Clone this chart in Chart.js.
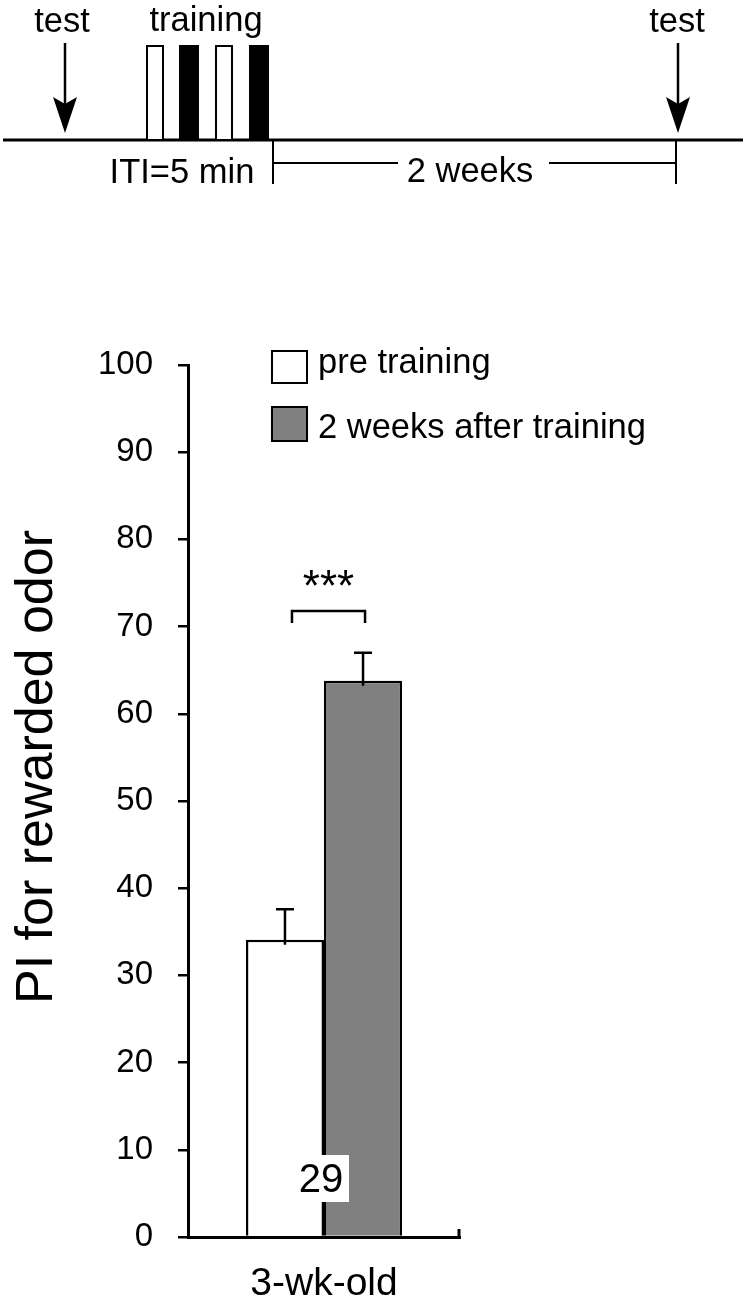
<!DOCTYPE html>
<html>
<head>
<meta charset="utf-8">
<script src="https://cdn.jsdelivr.net/npm/chart.js@4.4.1/dist/chart.umd.min.js"></script>
<style>
  html, body { margin: 0; padding: 0; background: #ffffff; }
  #wrap { position: relative; width: 746px; height: 1300px; overflow: hidden; }
  #c { position: absolute; left: 0; top: 0; }
  #schema { position: absolute; left: 0; top: 0; overflow: visible; }
  #schema text { font-family: "Liberation Sans", Arial, sans-serif; font-size: 34.5px; fill: #000; }
</style>
</head>
<body>
<div id="wrap">
  <canvas id="c" width="746" height="1300"></canvas>
  <svg id="schema" width="746" height="230" viewBox="0 0 746 230" xmlns="http://www.w3.org/2000/svg">
    <!-- time line -->
    <line x1="3" y1="140" x2="743" y2="140" stroke="#000" stroke-width="3"/>
    <!-- left test arrow -->
    <line x1="65" y1="43" x2="65" y2="110" stroke="#000" stroke-width="2.5"/>
    <polygon points="53,97 65,104 77,97 65,133" fill="#000"/>
    <text x="62" y="32" text-anchor="middle">test</text>
    <!-- training trials -->
    <rect x="147" y="46" width="16" height="94" fill="#fff" stroke="#000" stroke-width="2"/>
    <rect x="179" y="45" width="20" height="95" fill="#000"/>
    <rect x="216" y="46" width="16" height="94" fill="#fff" stroke="#000" stroke-width="2"/>
    <rect x="249" y="45" width="20" height="95" fill="#000"/>
    <text x="206" y="31" text-anchor="middle">training</text>
    <text x="182" y="183" text-anchor="middle">ITI=5 min</text>
    <!-- 2 weeks interval -->
    <line x1="273" y1="141" x2="273" y2="184" stroke="#000" stroke-width="2"/>
    <line x1="676" y1="141" x2="676" y2="184" stroke="#000" stroke-width="2"/>
    <line x1="273" y1="163" x2="398" y2="163" stroke="#000" stroke-width="2"/>
    <line x1="549" y1="163" x2="676" y2="163" stroke="#000" stroke-width="2"/>
    <text x="470" y="182" text-anchor="middle">2 weeks</text>
    <!-- right test arrow -->
    <line x1="678" y1="43" x2="678" y2="110" stroke="#000" stroke-width="2.5"/>
    <polygon points="666,97 678,104 690,97 678,133" fill="#000"/>
    <text x="677" y="32" text-anchor="middle">test</text>
  </svg>
</div>
<script>
// ---------------- data ----------------
const CATEGORIES = ['3-wk-old'];
const SERIES_LABELS = ['pre training', '2 weeks after training'];
const PRE_MEAN = [34.1];
const PRE_SEM = [3.5];
const POST_MEAN = [63.8];
const POST_SEM = [3.2];
const N_LABELS = ['29'];
const Y_TICKS = [0, 10, 20, 30, 40, 50, 60, 70, 80, 90, 100];
const Y_TITLE = 'PI for rewarded odor';
const SIG_TEXT = '***';
const SIG_BRACKET_VALUE = 71.8;   // bracket height (data units)
const SIG_LEG_VALUE = 70.4;       // bracket leg ends
const SIG_TEXT_VALUE = 72.9;      // baseline of the stars

const FONT = '"Liberation Sans", Arial, sans-serif';
Chart.defaults.font.family = FONT;
Chart.defaults.color = '#000';

const SEMS = [PRE_SEM, POST_SEM];

const annot = {
  id: 'annot',
  afterDatasetsDraw(chart) {
    const ctx = chart.ctx;
    const ca = chart.chartArea;
    const y = chart.scales.y;
    const x = chart.scales.x;
    ctx.save();
    ctx.strokeStyle = '#000';
    ctx.fillStyle = '#000';

    // error bars (upper half)
    chart.data.datasets.forEach((ds, di) => {
      const meta = chart.getDatasetMeta(di);
      meta.data.forEach((bar, i) => {
        const top = y.getPixelForValue(ds.data[i] + SEMS[di][i]);
        ctx.lineWidth = 2.5;
        ctx.beginPath();
        ctx.moveTo(bar.x, bar.y + 5);
        ctx.lineTo(bar.x, top);
        ctx.moveTo(bar.x - 9, top);
        ctx.lineTo(bar.x + 9, top);
        ctx.stroke();
      });
    });

    // significance bracket
    const b0 = chart.getDatasetMeta(0).data[0];
    const b1 = chart.getDatasetMeta(1).data[0];
    const xl = b0.x + 7, xr = b1.x + 2;
    const yb = y.getPixelForValue(SIG_BRACKET_VALUE);
    const yl = y.getPixelForValue(SIG_LEG_VALUE);
    ctx.lineWidth = 2.5;
    ctx.beginPath();
    ctx.moveTo(xl, yl); ctx.lineTo(xl, yb); ctx.lineTo(xr, yb); ctx.lineTo(xr, yl);
    ctx.stroke();
    ctx.font = '44px ' + FONT;
    ctx.textAlign = 'center';
    ctx.textBaseline = 'alphabetic';
    ctx.fillText(SIG_TEXT, (xl + xr) / 2, y.getPixelForValue(SIG_TEXT_VALUE));

    // n label
    CATEGORIES.forEach((c, i) => {
      const cx = x.getPixelForValue(i);
      ctx.fillStyle = '#fff';
      ctx.fillRect(cx - 29, ca.bottom - 82, 54, 47);
      ctx.fillStyle = '#000';
      ctx.font = '40px ' + FONT;
      ctx.textAlign = 'center';
      ctx.fillText(N_LABELS[i], cx - 3, ca.bottom - 45);
    });

    // right end tick of x axis
    ctx.lineWidth = 3;
    ctx.beginPath();
    ctx.moveTo(ca.right - 1, ca.bottom);
    ctx.lineTo(ca.right - 1, ca.bottom - 8);
    ctx.stroke();

    // legend
    const lx = ca.left + 84;
    const rows = [{boxTop: ca.top - 14, boxH: 32, base: ca.top + 8},
                  {boxTop: ca.top + 42, boxH: 34, base: ca.top + 73}];
    chart.data.datasets.forEach((ds, di) => {
      const r = rows[di];
      ctx.fillStyle = ds.backgroundColor;
      ctx.fillRect(lx, r.boxTop, 35, r.boxH);
      ctx.lineWidth = 2;
      ctx.strokeRect(lx, r.boxTop, 35, r.boxH);
      ctx.fillStyle = '#000';
      ctx.font = '34.5px ' + FONT;
      ctx.textAlign = 'left';
      ctx.fillText(ds.label, lx + 46, r.base);
    });

    // y-axis title
    ctx.save();
    ctx.translate(52, (ca.top + ca.bottom) / 2 - 34);
    ctx.rotate(-Math.PI / 2);
    ctx.font = '52px ' + FONT;
    ctx.textAlign = 'center';
    ctx.textBaseline = 'alphabetic';
    ctx.fillText(Y_TITLE, 0, 0);
    ctx.restore();

    ctx.restore();
  }
};

new Chart(document.getElementById('c'), {
  type: 'bar',
  data: {
    labels: CATEGORIES,
    datasets: [
      { label: SERIES_LABELS[0], data: PRE_MEAN, backgroundColor: '#ffffff',
        borderColor: '#000', borderWidth: 2.5 },
      { label: SERIES_LABELS[1], data: POST_MEAN, backgroundColor: '#808080',
        borderColor: '#000', borderWidth: 2.5 }
    ]
  },
  options: {
    responsive: false,
    animation: false,
    events: [],
    barPercentage: 1,
    categoryPercentage: 0.574,
    layout: { padding: { top: 365, right: 286, bottom: 0, left: 0 } },
    plugins: { legend: { display: false }, tooltip: { enabled: false }, title: { display: false } },
    scales: {
      x: {
        offset: true,
        grid: { display: false },
        border: { display: true, color: '#000', width: 3 },
        ticks: { font: { size: 39 }, padding: 16, color: '#000' },
        afterFit(s) { s.height = 63; }
      },
      y: {
        min: 0, max: 100,
        afterBuildTicks(s) { s.ticks = Y_TICKS.map(v => ({ value: v })); },
        grid: { drawOnChartArea: false, drawTicks: true, tickLength: 10, color: '#000', lineWidth: 2.5 },
        border: { display: true, color: '#000', width: 3 },
        ticks: { font: { size: 33 }, padding: 25, color: '#000' },
        afterFit(s) { s.width = 188; }
      }
    }
  },
  plugins: [annot]
});
</script>
</body>
</html>
